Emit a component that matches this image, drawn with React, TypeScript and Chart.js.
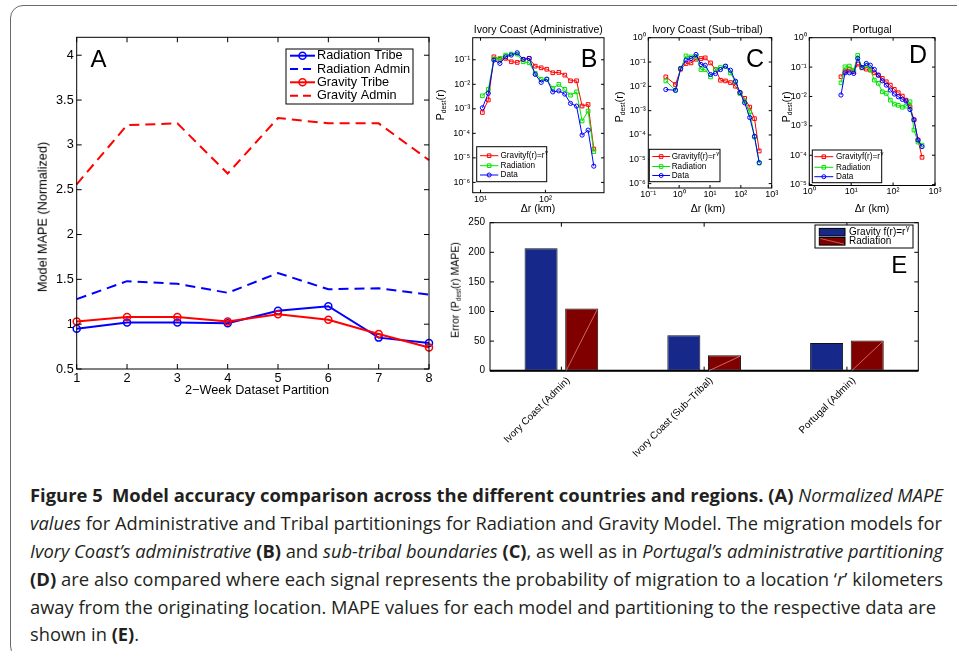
import React, { useEffect, useLayoutEffect, useRef } from 'react';
import { Chart, registerables } from 'chart.js';

Chart.register(...registerables);

const FONT = '"Liberation Sans", Arial, Helvetica, sans-serif';
const CAP_FONT = '"Open Sans", "Noto Sans", "DejaVu Sans", sans-serif';

// ---------- Panel A ----------
const partitions = ['1', '2', '3', '4', '5', '6', '7', '8'];
const aYTicks = [0.5, 1, 1.5, 2, 2.5, 3, 3.5, 4];
const radiationTribe = [0.95, 1.02, 1.02, 1.01, 1.15, 1.2, 0.85, 0.79];
const radiationAdmin = [1.28, 1.48, 1.45, 1.35, 1.57, 1.39, 1.4, 1.33];
const gravityTribe = [1.03, 1.08, 1.08, 1.03, 1.11, 1.05, 0.89, 0.74];
const gravityAdmin = [2.56, 3.22, 3.24, 2.68, 3.3, 3.24, 3.24, 2.83];

// ---------- Panel B (Ivory Coast, Administrative) ----------
const bDist = [10.7, 13.2, 16.1, 19.9, 24.4, 29.8, 36.8, 45.5, 56.3, 69.7, 86.1, 105, 130, 161, 199, 244, 302, 368, 455, 557];
const bGravity = [7.1e-4, 2.3e-3, 0.132, 0.104, 0.114, 0.083, 0.078, 0.104, 0.114, 0.055, 0.047, 0.041, 0.0295, 0.0305, 0.0237, 0.0139, 0.0139, 1.3e-3, 1.5e-3, 2.3e-5];
const bRadiation = [3.4e-3, 6.2e-3, 0.107, 0.114, 0.155, 0.171, 0.171, 0.083, 0.0755, 0.0278, 0.0158, 0.0158, 6.8e-3, 9.9e-3, 6.2e-3, 3.6e-3, 4.9e-3, 3.2e-4, 8.1e-4, 1.8e-5];
const bData = [1.1e-3, 4.3e-3, 0.097, 0.071, 0.132, 0.155, 0.193, 0.104, 0.114, 0.0254, 0.012, 0.0163, 4.9e-3, 5.4e-3, 4.0e-3, 1.66e-3, 1.29e-3, 8.5e-5, 1.35e-4, 4.6e-6];

// ---------- Panel C (Ivory Coast, Sub-tribal) ----------
const cDist = [0.37, 0.76, 1.12, 1.67, 2.42, 3.52, 5.1, 7.0, 10.4, 15.1, 21.9, 31.8, 46.2, 67.1, 93.8, 133, 194, 277, 394];
const cGravity = [0.0244, 0.0119, 0.0506, 0.0867, 0.0918, 0.13, 0.139, 0.148, 0.0918, 0.049, 0.0178, 0.0167, 0.0143, 0.0101, 5.4e-3, 3.2e-3, 1.4e-3, 4.7e-4, 2.2e-5];
const cRadiation = [0.0167, 6.9e-3, 0.054, 0.178, 0.162, 0.173, 0.049, 0.049, 0.0244, 0.049, 0.0594, 0.0672, 0.0356, 0.0152, 5.1e-3, 2.5e-3, 8.9e-4, 8.3e-5, 7e-6];
const cData = [7.4e-3, 6.9e-3, 0.054, 0.119, 0.139, 0.204, 0.0789, 0.0738, 0.0306, 0.0336, 0.049, 0.0672, 0.046, 0.0162, 5.6e-3, 2.1e-3, 5.2e-4, 8.8e-5, 7.3e-6];

// ---------- Panel D (Portugal) ----------
const dDist = [5.7, 7.1, 9.0, 11.5, 14.3, 18.1, 22.9, 28.6, 35.6, 44.3, 55.2, 68.8, 85.7, 107, 133, 166, 203, 253, 315, 393, 490];
const dGravity = [0.0467, 0.0728, 0.0832, 0.069, 0.126, 0.0944, 0.0851, 0.0788, 0.0638, 0.0533, 0.0412, 0.0316, 0.0244, 0.0174, 0.0134, 0.0103, 7.5e-3, 4.5e-3, 1.6e-3, 3.3e-4, 8.5e-5];
const dRadiation = [0.0292, 0.102, 0.108, 0.0788, 0.249, 0.0973, 0.116, 0.0832, 0.036, 0.0279, 0.0144, 0.0127, 7.5e-3, 5.5e-3, 5.0e-3, 4.3e-3, 4.7e-3, 6.6e-3, 7.2e-4, 2.8e-4, 2.2e-4];
const dData = [0.0112, 0.0638, 0.0638, 0.0608, 0.197, 0.0973, 0.133, 0.116, 0.0832, 0.0533, 0.0341, 0.0244, 0.0165, 0.0121, 9.8e-3, 8.0e-3, 7.0e-3, 3.6e-3, 1.6e-3, 3.3e-4, 1.96e-4];

// ---------- Panel E ----------
const eCategories = ['Ivory Coast (Admin)', 'Ivory Coast (Sub\u2212Tribal)', 'Portugal (Admin)'];
const eGravity = [207, 60, 47];
const eRadiation = [105, 26, 51];
const eYTicks = [0, 50, 100, 150, 200, 250];

const RED = '#ff0000';
const GREEN = '#00e600';
const BLUE = '#0000ff';
const BAR_BLUE = '#16298a';
const BAR_RED = '#800000';

type Box = { x: number; y: number; w: number; h: number };
type Area = { l: number; t: number; r: number; b: number };

const SUP: Record<string, string> = { '-': '\u207b', '0': '\u2070', '1': '\u00b9', '2': '\u00b2', '3': '\u00b3', '4': '\u2074', '5': '\u2075', '6': '\u2076', '7': '\u2077', '8': '\u2078', '9': '\u2079' };
function pow10Label(v: number) {
  const e = Math.round(Math.log10(v));
  return '10' + String(e).split('').map((c) => SUP[c] || c).join('');
}
function decades(min: number, max: number) {
  const out: number[] = [];
  for (let e = Math.ceil(Math.log10(min) - 1e-9); e <= Math.floor(Math.log10(max) + 1e-9); e++) out.push(Math.pow(10, e));
  return out;
}

// inward MATLAB-like ticks + box
const mBox = {
  id: 'mBox',
  afterDatasetsDraw(chart: any, _a: any, o: any) {
    if (!o || !o.on) return;
    const { ctx, chartArea: a } = chart;
    const xs = chart.scales.x;
    const ys = chart.scales.y;
    const L = o.tick || 4;
    ctx.save();
    ctx.strokeStyle = '#000';
    ctx.lineWidth = 1;
    ctx.beginPath();
    xs.ticks.forEach((_t: any, i: number) => {
      const px = xs.getPixelForTick(i);
      ctx.moveTo(px, a.bottom);
      ctx.lineTo(px, a.bottom - L);
      ctx.moveTo(px, a.top);
      ctx.lineTo(px, a.top + L);
    });
    ys.ticks.forEach((_t: any, i: number) => {
      const py = ys.getPixelForTick(i);
      ctx.moveTo(a.left, py);
      ctx.lineTo(a.left + L, py);
      ctx.moveTo(a.right, py);
      ctx.lineTo(a.right - L, py);
    });
    ctx.stroke();
    ctx.strokeRect(a.left, a.top, a.right - a.left, a.bottom - a.top);
    if (o.bottomWidth) {
      ctx.lineWidth = o.bottomWidth;
      ctx.beginPath();
      ctx.moveTo(a.left, a.bottom);
      ctx.lineTo(a.right, a.bottom);
      ctx.stroke();
    }
    ctx.restore();
  },
};

// diagonal hairline inside bars of one dataset
const hatchLine = {
  id: 'hatchLine',
  afterDatasetsDraw(chart: any, _a: any, o: any) {
    if (!o || o.dataset == null) return;
    const { ctx } = chart;
    const meta = chart.getDatasetMeta(o.dataset);
    ctx.save();
    ctx.strokeStyle = o.color;
    ctx.lineWidth = 0.8;
    meta.data.forEach((bar: any) => {
      const p = bar.getProps(['x', 'y', 'base', 'width'], true);
      ctx.beginPath();
      ctx.moveTo(p.x - p.width / 2 + 1, p.base);
      ctx.lineTo(p.x + p.width / 2 - 1, p.y + 1);
      ctx.stroke();
    });
    ctx.restore();
  },
};

// boxed legend drawn inside the plot
const boxLegend = {
  id: 'boxLegend',
  afterDraw(chart: any, _a: any, o: any) {
    if (!o || !o.items) return;
    const ctx = chart.ctx;
    const ox = o.ox;
    const oy = o.oy;
    ctx.save();
    ctx.fillStyle = '#fff';
    ctx.fillRect(o.x - ox, o.y - oy, o.w, o.h);
    ctx.strokeStyle = '#000';
    ctx.lineWidth = 1;
    ctx.strokeRect(o.x - ox, o.y - oy, o.w, o.h);
    o.items.forEach((it: any, i: number) => {
      const cy = o.rows[i] - oy;
      const x0 = o.x0 - ox;
      const x1 = o.x1 - ox;
      if (it.swatch) {
        ctx.fillStyle = it.color;
        ctx.fillRect(x0, cy - o.sh / 2, x1 - x0, o.sh);
        ctx.strokeStyle = '#000';
        ctx.lineWidth = 1;
        ctx.strokeRect(x0, cy - o.sh / 2, x1 - x0, o.sh);
        if (it.hatch) {
          ctx.strokeStyle = it.hatch;
          ctx.lineWidth = 0.7;
          ctx.beginPath();
          ctx.moveTo(x0 + 1, cy - o.sh / 2 + 1);
          ctx.lineTo(x1 - 1, cy + o.sh / 2 - 1);
          ctx.stroke();
        }
      } else {
        ctx.strokeStyle = it.color;
        ctx.lineWidth = it.lw;
        ctx.setLineDash(it.dash || []);
        ctx.beginPath();
        ctx.moveTo(x0, cy);
        ctx.lineTo(x1, cy);
        ctx.stroke();
        ctx.setLineDash([]);
        if (it.marker) {
          const mx = (x0 + x1) / 2;
          ctx.lineWidth = it.mlw;
          ctx.beginPath();
          if (it.marker === 'circle') ctx.arc(mx, cy, it.mr, 0, Math.PI * 2);
          else ctx.rect(mx - it.mr, cy - it.mr, it.mr * 2, it.mr * 2);
          ctx.stroke();
        }
      }
      ctx.fillStyle = '#000';
      ctx.font = `${o.size}px ${FONT}`;
      ctx.textBaseline = 'middle';
      ctx.textAlign = 'left';
      ctx.fillText(it.label, o.tx - ox, cy);
      if (it.sup) {
        const w = ctx.measureText(it.label).width;
        ctx.font = `${o.size * 0.72}px ${FONT}`;
        ctx.fillText(it.sup, o.tx - ox + w + 0.6, cy - o.size * 0.38);
      }
    });
    ctx.restore();
  },
};

Chart.register(mBox, hatchLine, boxLegend);

function frame(box: Box, area: Area) {
  return {
    padding: { left: 0, top: area.t - box.y, right: box.x + box.w - area.r, bottom: 0 },
    yWidth: area.l - box.x,
    xHeight: box.y + box.h - area.b,
  };
}

function logAxis(min: number, max: number, size: number, padding: number, fit: (s: any) => void) {
  return {
    type: 'logarithmic',
    min,
    max,
    grid: { display: false, drawTicks: false },
    border: { display: false },
    afterBuildTicks: (scale: any) => {
      scale.ticks = decades(min, max).map((v) => ({ value: v }));
    },
    afterFit: fit,
    ticks: {
      autoSkip: false,
      maxRotation: 0,
      minRotation: 0,
      padding,
      color: '#000',
      font: { family: FONT, size },
      callback: (v: any) => pow10Label(Number(v)),
    },
  };
}

function pts(xs: number[], ys: number[]) {
  return xs.map((x, i) => ({ x, y: ys[i] }));
}

function distSeries(dist: number[], grav: number[], rad: number[], data: number[]) {
  const common = { borderWidth: 1, pointBorderWidth: 1, pointBackgroundColor: 'rgba(0,0,0,0)', tension: 0, clip: false };
  return [
    { ...common, label: 'Gravity', data: pts(dist, grav), borderColor: RED, pointBorderColor: RED, pointStyle: 'rect', pointRadius: 2.6, order: 2 },
    { ...common, label: 'Radiation', data: pts(dist, rad), borderColor: GREEN, pointBorderColor: GREEN, pointStyle: 'rect', pointRadius: 2.6, order: 1 },
    { ...common, label: 'Data', data: pts(dist, data), borderColor: BLUE, pointBorderColor: BLUE, pointStyle: 'circle', pointRadius: 2.1, order: 0 },
  ];
}

const distLegendItems = [
  { label: 'Gravityf(r)=r', sup: '\u03b3', color: RED, lw: 1, marker: 'rect', mr: 1.8, mlw: 1 },
  { label: 'Radiation', color: GREEN, lw: 1, marker: 'rect', mr: 1.8, mlw: 1 },
  { label: 'Data', color: BLUE, lw: 1, marker: 'circle', mr: 2, mlw: 1 },
];

function distConfig(box: Box, area: Area, dist: number[], g: number[], r: number[], d: number[], xr: [number, number], yr: [number, number], legend: any) {
  const f = frame(box, area);
  return {
    type: 'line',
    data: { datasets: distSeries(dist, g, r, d) },
    options: {
      responsive: false,
      animation: false,
      layout: { padding: f.padding },
      scales: {
        x: logAxis(xr[0], xr[1], 9, 1, (s: any) => { s.height = f.xHeight; }),
        y: logAxis(yr[0], yr[1], 9, 2.5, (s: any) => { s.width = f.yWidth; }),
      },
      plugins: {
        legend: { display: false },
        tooltip: { enabled: false },
        mBox: { on: true, tick: 3 },
        boxLegend: { ...legend, ox: box.x, oy: box.y, items: distLegendItems, size: 8.2 },
      },
    },
  };
}

function aConfig(box: Box, area: Area) {
  const f = frame(box, area);
  const solid = { borderWidth: 2, pointStyle: 'circle', pointRadius: 3.5, pointBorderWidth: 1.5, pointBackgroundColor: 'rgba(0,0,0,0)', tension: 0, clip: false };
  const dashed = { borderWidth: 2, borderDash: [10, 6], pointRadius: 0, tension: 0, clip: false };
  return {
    type: 'line',
    data: {
      labels: partitions,
      datasets: [
        { ...solid, label: 'Radiation Tribe', data: radiationTribe, borderColor: BLUE, pointBorderColor: BLUE, order: 2 },
        { ...dashed, label: 'Radiation Admin', data: radiationAdmin, borderColor: BLUE, order: 3 },
        { ...solid, label: 'Gravity Tribe', data: gravityTribe, borderColor: RED, pointBorderColor: RED, order: 0 },
        { ...dashed, label: 'Gravity Admin', data: gravityAdmin, borderColor: RED, order: 1 },
      ],
    },
    options: {
      responsive: false,
      animation: false,
      layout: { padding: f.padding },
      scales: {
        x: {
          type: 'category',
          offset: false,
          grid: { display: false, drawTicks: false },
          border: { display: false },
          afterFit: (s: any) => { s.height = f.xHeight; },
          ticks: { padding: 2, color: '#000', font: { family: FONT, size: 12.7 }, maxRotation: 0, autoSkip: false },
        },
        y: {
          type: 'linear',
          min: 0.5,
          max: 4.2,
          grid: { display: false, drawTicks: false },
          border: { display: false },
          afterBuildTicks: (scale: any) => { scale.ticks = aYTicks.map((v) => ({ value: v })); },
          afterFit: (s: any) => { s.width = f.yWidth; },
          ticks: { padding: 3, color: '#000', font: { family: FONT, size: 12.7 }, callback: (v: any) => String(Number(v)) },
        },
      },
      plugins: {
        legend: { display: false },
        tooltip: { enabled: false },
        mBox: { on: true, tick: 5 },
        boxLegend: {
          ox: box.x, oy: box.y, x: 286, y: 49, w: 127, h: 55, rows: [55.7, 69, 82.3, 95.7], x0: 290, x1: 315, tx: 317, size: 12.7,
          items: [
            { label: 'Radiation Tribe', color: BLUE, lw: 2, marker: 'circle', mr: 3.5, mlw: 1.5 },
            { label: 'Radiation Admin', color: BLUE, lw: 2, dash: [8, 5] },
            { label: 'Gravity Tribe', color: RED, lw: 2, marker: 'circle', mr: 3.5, mlw: 1.5 },
            { label: 'Gravity Admin', color: RED, lw: 2, dash: [8, 5] },
          ],
        },
      },
    },
  };
}

function eConfig(box: Box, area: Area) {
  const f = frame(box, area);
  const common = { borderColor: '#111', borderWidth: 1, barPercentage: 0.813, categoryPercentage: 0.569, borderSkipped: false };
  return {
    type: 'bar',
    data: {
      labels: eCategories,
      datasets: [
        { ...common, label: 'Gravity f(r)=r\u03b3', data: eGravity, backgroundColor: BAR_BLUE },
        { ...common, label: 'Radiation', data: eRadiation, backgroundColor: BAR_RED },
      ],
    },
    options: {
      responsive: false,
      animation: false,
      layout: { padding: f.padding },
      scales: {
        x: {
          grid: { display: false, drawTicks: false },
          border: { display: false },
          afterFit: (s: any) => { s.height = f.xHeight; },
          ticks: { minRotation: 45, maxRotation: 45, labelOffset: 7, padding: 4, autoSkip: false, color: '#000', font: { family: FONT, size: 10 } },
        },
        y: {
          min: 0,
          max: 250,
          grid: { display: false, drawTicks: false },
          border: { display: false },
          afterBuildTicks: (scale: any) => { scale.ticks = eYTicks.map((v) => ({ value: v })); },
          afterFit: (s: any) => { s.width = f.yWidth; },
          ticks: { padding: 5, color: '#000', font: { family: FONT, size: 10 } },
        },
      },
      plugins: {
        legend: { display: false },
        tooltip: { enabled: false },
        mBox: { on: true, tick: 4, bottomWidth: 2 },
        hatchLine: { dataset: 1, color: 'rgba(255,170,170,0.75)' },
        boxLegend: {
          ox: box.x, oy: box.y, x: 815, y: 225, w: 98, h: 23, rows: [232.2, 241.3], x0: 819.3, x1: 845, sh: 7.6, tx: 849, size: 10,
          items: [
            { label: 'Gravity f(r)=r', sup: '\u03b3', color: BAR_BLUE, swatch: true },
            { label: 'Radiation', color: BAR_RED, swatch: true, hatch: 'rgba(255,170,170,0.75)' },
          ],
        },
      },
    },
  };
}

function ChartPanel({ box, area, make }: { box: Box; area: Area; make: (b: Box, a: Area) => any }) {
  const ref = useRef<HTMLCanvasElement>(null);
  useEffect(() => {
    const chart = new Chart(ref.current as HTMLCanvasElement, make(box, area));
    return () => chart.destroy();
  }, []);
  return (
    <canvas
      ref={ref}
      width={box.w}
      height={box.h}
      style={{ position: 'absolute', left: box.x, top: box.y, width: box.w, height: box.h }}
    />
  );
}

function Txt({ x, y, size, rotate, children, style }: any) {
  return (
    <div
      style={{
        position: 'absolute', left: x, top: y, fontFamily: FONT, fontSize: size, lineHeight: 1, whiteSpace: 'nowrap', color: '#000',
        transform: `translate(-50%,-50%)${rotate ? ` rotate(${rotate}deg)` : ''}`, ...style,
      }}
    >
      {children}
    </div>
  );
}

const subStyle: React.CSSProperties = { fontSize: '0.62em', verticalAlign: '-0.35em', lineHeight: 0 };
const Pdest = () => (
  <span>P<sub style={subStyle}>dest</sub>(r)</span>
);

const captionTops = [495, 523, 551, 579, 607, 634];
// target widths of the caption lines; the last short line reuses the previous line's compression
const captionWidths: (number | null)[] = [913, 912, 913, 913, 906, null];

function Caption() {
  const refs = useRef<(HTMLDivElement | null)[]>([]);
  useLayoutEffect(() => {
    const fit = () => {
      let last = 1;
      refs.current.forEach((el, i) => {
        if (!el) return;
        el.style.transform = 'none';
        const w = el.getBoundingClientRect().width;
        const target = captionWidths[i];
        const s = target == null ? last : target / w;
        last = s;
        el.style.transform = `scaleX(${s})`;
      });
    };
    fit();
    if ((document as any).fonts && (document as any).fonts.ready) (document as any).fonts.ready.then(fit);
  }, []);
  const B = ({ children }: any) => <span style={{ fontWeight: 700 }}>{children}</span>;
  const I = ({ children }: any) => <span style={{ fontStyle: 'italic' }}>{children}</span>;
  const lines = [
    <><B>Figure 5{'\u2002'}Model accuracy comparison across the different countries and regions.</B> <B>(A)</B> <I>Normalized MAPE</I></>,
    <><I>values</I> for Administrative and Tribal partitionings for Radiation and Gravity Model. The migration models for</>,
    <><I>Ivory Coast{'\u2019'}s administrative</I> <B>(B)</B> and <I>sub-tribal boundaries</I> <B>(C)</B>, as well as in <I>Portugal{'\u2019'}s administrative partitioning</I></>,
    <><B>(D)</B> are also compared where each signal represents the probability of migration to a location {'\u2018'}<I>r</I>{'\u2019'} kilometers</>,
    <>away from the originating location. MAPE values for each model and partitioning to the respective data are</>,
    <>shown in <B>(E)</B>.</>,
  ];
  return (
    <>
      {lines.map((l, i) => (
        <div
          key={i}
          ref={(el) => { refs.current[i] = el; }}
          style={{
            position: 'absolute', left: 30, top: captionTops[i] - 14, height: 28, lineHeight: '28px', fontFamily: CAP_FONT, fontSize: 18.5,
            whiteSpace: 'nowrap', color: '#231f20', transformOrigin: '0 50%',
          }}
        >
          {l}
        </div>
      ))}
    </>
  );
}

const boxA: Box = { x: 20, y: 25, w: 420, h: 365 };
const areaA: Area = { l: 76.7, t: 37.3, r: 429, b: 369 };
const boxB: Box = { x: 440, y: 20, w: 175, h: 195 };
const areaB: Area = { l: 472.7, t: 37.7, r: 604, b: 192.7 };
const boxC: Box = { x: 615, y: 20, w: 170, h: 195 };
const areaC: Area = { l: 648.3, t: 37.7, r: 771.7, b: 188 };
const boxD: Box = { x: 785, y: 20, w: 165, h: 195 };
const areaD: Area = { l: 809.3, t: 37.7, r: 935, b: 185.5 };
const boxE: Box = { x: 440, y: 205, w: 500, h: 265 };
const areaE: Area = { l: 490, t: 222.7, r: 918.3, b: 370.7 };

export default function App() {
  return (
    <div style={{ position: 'absolute', left: 0, top: 0, width: 957, height: 651, overflow: 'hidden', background: '#fff' }}>
      <div style={{ position: 'absolute', left: 10, top: 5, width: 1000, height: 652, border: '1.5px solid #6a6a6a', borderRadius: 13 }} />

      <ChartPanel box={boxA} area={areaA} make={aConfig} />
      <ChartPanel box={boxB} area={areaB} make={(b, a) => distConfig(b, a, bDist, bGravity, bRadiation, bData, [Math.pow(10, 0.88), Math.pow(10, 2.903)], [Math.pow(10, -6.42), Math.pow(10, -0.1)], { x: 476.7, y: 146.7, w: 70, h: 35, rows: [155.7, 165.7, 175], x0: 480, x1: 498.3, tx: 500.5 })} />
      <ChartPanel box={boxC} area={areaC} make={(b, a) => distConfig(b, a, cDist, cGravity, cRadiation, cData, [0.1, 1000], [Math.pow(10, -6.18), 1], { x: 649.3, y: 149.3, w: 70.7, h: 32.4, rows: [156.5, 166.5, 175.5], x0: 652.3, x1: 670, tx: 671.7 })} />
      <ChartPanel box={boxD} area={areaD} make={(b, a) => distConfig(b, a, dDist, dGravity, dRadiation, dData, [1, 1000], [Math.pow(10, -5.03), 1], { x: 812.3, y: 150, w: 69.4, h: 32.7, rows: [156.7, 167.3, 176.7], x0: 814.3, x1: 833.3, tx: 836 })} />
      <ChartPanel box={boxE} area={areaE} make={eConfig} />

      {/* Panel A texts */}
      <Txt x={98.5} y={58.5} size={24}>A</Txt>
      <Txt x={43} y={217} size={12.7} rotate={-90}>Model MAPE (Normalized)</Txt>
      <Txt x={257} y={390} size={12.7}>2{'\u2212'}Week Dataset Partition</Txt>

      {/* Panel B texts */}
      <Txt x={538.3} y={29.3} size={10.5}>Ivory Coast (Administrative)</Txt>
      <Txt x={589} y={58} size={25}>B</Txt>
      <Txt x={440} y={105} size={11} rotate={-90}><Pdest /></Txt>
      <Txt x={538} y={208} size={10.5}>{'\u0394'}r (km)</Txt>

      {/* Panel C texts */}
      <Txt x={707.5} y={29.3} size={10.5}>Ivory Coast (Sub{'\u2212'}tribal)</Txt>
      <Txt x={755} y={57.5} size={25}>C</Txt>
      <Txt x={619} y={107} size={11} rotate={-90}><Pdest /></Txt>
      <Txt x={708} y={208} size={10.5}>{'\u0394'}r (km)</Txt>

      {/* Panel D texts */}
      <Txt x={872} y={29.3} size={10.5}>Portugal</Txt>
      <Txt x={918} y={53.5} size={25}>D</Txt>
      <Txt x={786} y={107} size={11} rotate={-90}><Pdest /></Txt>
      <Txt x={872} y={208} size={10.5}>{'\u0394'}r (km)</Txt>

      {/* Panel E texts */}
      <Txt x={899.3} y={265} size={24}>E</Txt>
      <Txt x={455} y={290} size={10.5} rotate={-90}>Error (<Pdest /> MAPE)</Txt>

      <Caption />
    </div>
  );
}
